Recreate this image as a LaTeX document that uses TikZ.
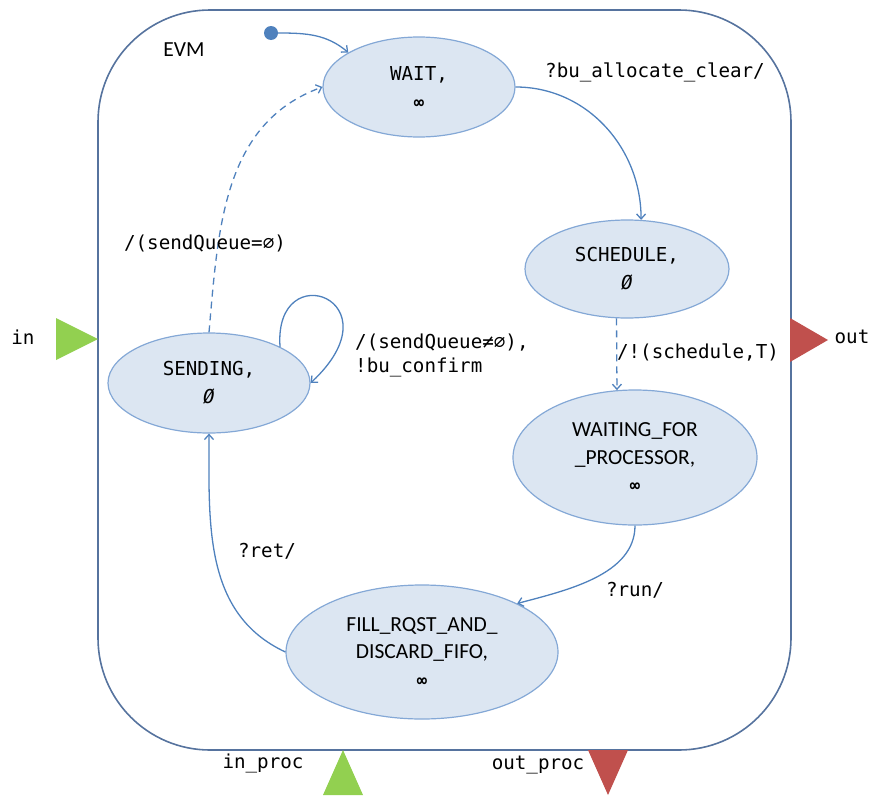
\documentclass[tikz,border=0pt]{standalone}
\usepackage{fontspec}
\setmainfont{Carlito}
\setmonofont{DejaVu Sans Mono}
\usetikzlibrary{arrows.meta,shapes.geometric}

\definecolor{stfill}{HTML}{DCE6F2}
\definecolor{stline}{HTML}{84A8D6}
\definecolor{edgeblue}{HTML}{4F81BD}
\definecolor{frameblue}{HTML}{56739E}
\definecolor{portgreen}{HTML}{92D050}
\definecolor{portred}{HTML}{C0504D}

\newcommand{\monotext}{\ttfamily\fontsize{19.2}{28}\selectfont}
\newcommand{\looptext}{\ttfamily\fontsize{19.2}{24}\selectfont}
\newcommand{\sanstext}{\rmfamily\fontsize{21.5}{27.5}\selectfont}
\newcommand{\infsym}{{\ttfamily\bfseries\itshape\fontsize{17}{28}\selectfont ∞}}
% slashed italic zero
\newcommand{\zerosym}{{\ttfamily\itshape Ø}}

\tikzset{
  state/.style={ellipse, draw=stline, line width=1.2pt, fill=stfill,
    inner sep=0pt, align=center, text=black},
  trans/.style={draw=edgeblue, line width=1.3pt,
    -{Straight Barb[length=5pt,width=9pt]}},
  dashtrans/.style={trans, dash pattern=on 7pt off 5pt},
  lbl/.style={font=\monotext, text=black, inner sep=0pt},
}

\begin{document}
\begin{tikzpicture}[x=1pt,y=1pt]
\useasboundingbox (0,0) rectangle (878,-798);

% component frame
\draw[frameblue, line width=1.6pt, rounded corners=112pt]
  (98,-10) rectangle (791,-750);
\node[font=\sanstext, text=black, inner sep=0pt] (evm) at (184,-50) {EVM};

% ports
\fill[portgreen] (56,-318) -- (98,-339) -- (56,-360) -- cycle;
\fill[portred] (790,-318) -- (828,-340) -- (790,-362) -- cycle;
\fill[portgreen] (323,-795) -- (343,-750) -- (363,-795) -- cycle;
\fill[portred] (588,-750) -- (628,-750) -- (608,-795) -- cycle;
\node[lbl] (pin) at (23,-337) {in};
\node[lbl] (pout) at (852,-337) {out};
\node[lbl] (pinproc) at (263,-763) {in\_proc};
\node[lbl] (poutproc) at (538,-765) {out\_proc};

% states
\node[circle, fill=edgeblue, minimum size=14pt, inner sep=0pt] (init) at (271,-33) {};
\node[state, minimum width=192pt, minimum height=100pt, font=\monotext]
  (wait) at (419,-87) {WAIT,\\\infsym};
\node[state, minimum width=204pt, minimum height=98pt, font=\monotext]
  (sched) at (627,-269) {SCHEDULE,\\\zerosym};
\node[state, minimum width=244pt, minimum height=135pt, font=\sanstext]
  (waitproc) at (635,-457.5) {WAITING\_FOR\\\_PROCESSOR,\\\infsym};
\node[state, minimum width=272pt, minimum height=134pt, font=\sanstext]
  (fill) at (422,-652) {FILL\_RQST\_AND\_\\DISCARD\_FIFO,\\\infsym};
\node[state, minimum width=202pt, minimum height=100pt, font=\monotext]
  (send) at (209,-383) {SENDING,\\\zerosym};

% transitions
\draw[trans] (init) to[out=0, in=140] (wait.154);
\draw[trans] (wait.east) to[out=0, in=90] (sched.74);
\draw[dashtrans] (sched.258) -- (waitproc.105);
\draw[trans] (waitproc.south) to[out=-90, in=15, looseness=0.9] (fill.27);
\draw[trans] (fill.west) to[out=155, in=-90] (send.south);
\draw[dashtrans] (send.north) to[out=85, in=200] (wait.west);
\draw[trans] (send.27) to[out=94, in=43, out distance=93pt, in distance=122pt] (send.east);

% transition labels
\node[lbl] (l1) at (655,-72) {?bu\_allocate\_clear/};
\node[lbl] (l2) at (698,-352) {/!(schedule,T)};
\node[lbl] (l3) at (635,-590) {?run/};
\node[lbl] (l4) at (267,-551) {?ret/};
\node[lbl] (l5) at (205,-243) {/(sendQueue=∅)};
\node[lbl, font=\looptext, anchor=west, align=left] (l6) at (355,-355)
  {/(sendQueue≠∅),\\!bu\_confirm};
\end{tikzpicture}
\end{document}
